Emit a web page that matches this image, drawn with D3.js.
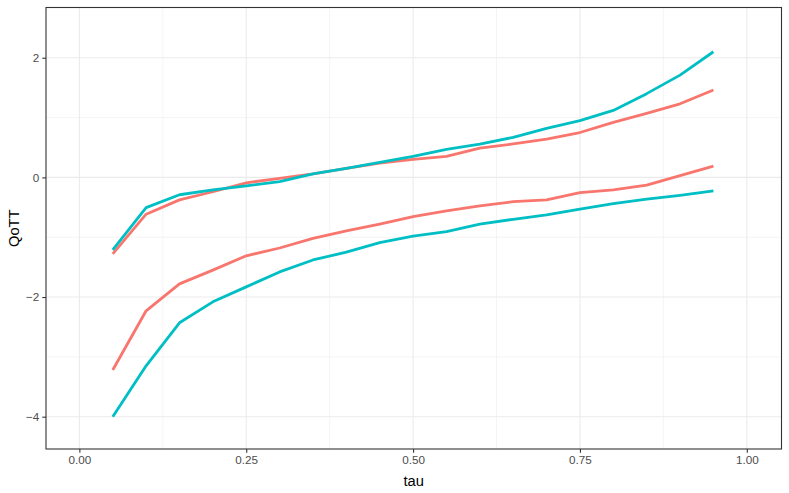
<!DOCTYPE html>
<html><head><meta charset="utf-8">
<script src="https://cdn.jsdelivr.net/npm/d3@7"></script>
<style>body{margin:0;background:#fff}svg{display:block}</style>
</head><body><svg id="c" width="789" height="493"></svg>
<script>
const tau = [0.05,0.10,0.15,0.20,0.25,0.30,0.35,0.40,0.45,0.50,0.55,0.60,0.65,0.70,0.75,0.80,0.85,0.90,0.95];
const redUpper  = [-1.28,-0.615,-0.376,-0.24,-0.09,-0.015,0.06,0.15,0.24,0.30,0.35,0.49,0.56,0.64,0.75,0.92,1.07,1.23,1.46];
const redLower  = [-3.22,-2.23,-1.78,-1.55,-1.31,-1.18,-1.02,-0.895,-0.78,-0.655,-0.56,-0.477,-0.405,-0.376,-0.254,-0.21,-0.13,0.03,0.19];
const tealUpper = [-1.21,-0.505,-0.29,-0.21,-0.14,-0.07,0.06,0.15,0.25,0.35,0.47,0.555,0.67,0.82,0.95,1.12,1.40,1.71,2.10];
const tealLower = [-4.0,-3.15,-2.43,-2.08,-1.83,-1.58,-1.38,-1.25,-1.09,-0.98,-0.905,-0.78,-0.70,-0.627,-0.53,-0.44,-0.365,-0.30,-0.225];
const xTicks = [0, 0.25, 0.5, 0.75, 1];
const xTickLabels = ["0.00","0.25","0.50","0.75","1.00"];
const yTicks = [-4, -2, 0, 2];
const xMinor = [0.125, 0.375, 0.625, 0.875];
const yMinor = [-3, -1, 1];
const series = [
  {name:"red upper", values:redUpper, color:"#F8766D"},
  {name:"red lower", values:redLower, color:"#F8766D"},
  {name:"teal upper", values:tealUpper, color:"#00BFC4"},
  {name:"teal lower", values:tealLower, color:"#00BFC4"}
];

const svg = d3.select("#c");
const L = 46, R = 781.5, T = 7.5, B = 449;
const x = d3.scaleLinear().domain([-0.05, 1.052]).range([L, R]);
const y = d3.scaleLinear().domain([-4.54, 2.84]).range([B, T]);

// grid
const g = svg.append("g");
g.selectAll(".xm").data(xMinor).join("line").attr("x1",d=>x(d)).attr("x2",d=>x(d)).attr("y1",T).attr("y2",B).attr("stroke","#ebebeb").attr("stroke-width",0.55);
g.selectAll(".ym").data(yMinor).join("line").attr("y1",d=>y(d)).attr("y2",d=>y(d)).attr("x1",L).attr("x2",R).attr("stroke","#ebebeb").attr("stroke-width",0.55);
g.selectAll(".xM").data(xTicks).join("line").attr("x1",d=>x(d)).attr("x2",d=>x(d)).attr("y1",T).attr("y2",B).attr("stroke","#ebebeb").attr("stroke-width",1.1);
g.selectAll(".yM").data(yTicks).join("line").attr("y1",d=>y(d)).attr("y2",d=>y(d)).attr("x1",L).attr("x2",R).attr("stroke","#ebebeb").attr("stroke-width",1.1);

// lines
const line = d3.line().x((d,i)=>x(tau[i])).y(d=>y(d));
svg.append("g").selectAll("path").data(series).join("path")
  .attr("d", d=>line(d.values)).attr("fill","none").attr("stroke",d=>d.color)
  .attr("stroke-width",2.8).attr("stroke-linejoin","round").attr("stroke-linecap","butt");

// border
svg.append("rect").attr("x",L).attr("y",T).attr("width",R-L).attr("height",B-T).attr("fill","none").attr("stroke","#333333").attr("stroke-width",1.1);

// axes
const xa = svg.append("g").attr("transform",`translate(0,${B})`)
  .call(d3.axisBottom(x).tickValues(xTicks).tickFormat((d,i)=>xTickLabels[i]).tickSize(3.7).tickPadding(3));
const ya = svg.append("g").attr("transform",`translate(${L},0)`)
  .call(d3.axisLeft(y).tickValues(yTicks).tickFormat(d=>d<0?"\u2212"+Math.abs(d):String(d)).tickSize(3.7).tickPadding(3));
[xa,ya].forEach(a=>{
  a.select(".domain").remove();
  a.selectAll(".tick line").attr("stroke","#333333").attr("stroke-width",1.1);
  a.selectAll(".tick text").attr("fill","#4d4d4d").style("font-family","Liberation Sans, Arial, sans-serif").style("font-size","11.7px");
});

svg.append("text").attr("x",(L+R)/2).attr("y",486).attr("text-anchor","middle")
  .style("font-family","Liberation Sans, Arial, sans-serif").style("font-size","14.7px").attr("fill","#000").text("tau");
svg.append("text").attr("transform",`translate(19,${(T+B)/2}) rotate(-90)`).attr("text-anchor","middle")
  .style("font-family","Liberation Sans, Arial, sans-serif").style("font-size","14.7px").attr("fill","#000").text("QoTT");
</script></body></html>
